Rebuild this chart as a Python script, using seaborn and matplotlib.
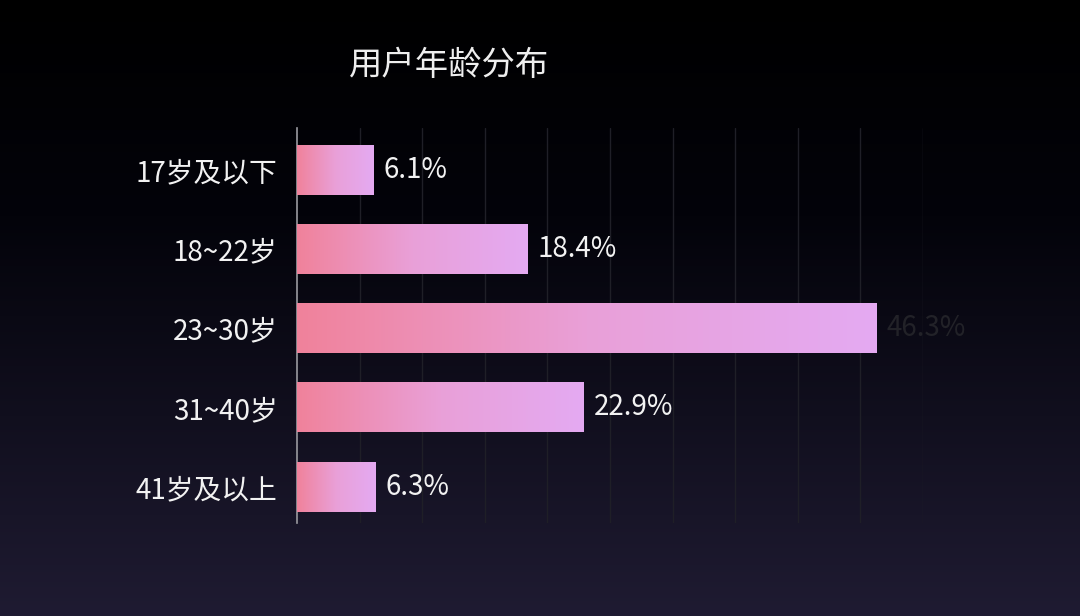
import numpy as np
import pandas as pd
import matplotlib
matplotlib.use('Agg')
import matplotlib.pyplot as plt
from matplotlib.colors import LinearSegmentedColormap
import seaborn as sns

# data
age_groups = ['17岁及以下', '18~22岁', '23~30岁', '31~40岁', '41岁及以上']
shares = [6.1, 18.4, 46.3, 22.9, 6.3]
value_labels = ['6.1%', '18.4%', '46.3%', '22.9%', '6.3%']
title = '用户年龄分布'

sns.set_style('white')
plt.rcParams['font.family'] = ['Noto Sans CJK SC', 'DejaVu Sans']

df = pd.DataFrame({'group': age_groups, 'share': shares})

fig = plt.figure(figsize=(10.8, 6.16), dpi=100)

# background: black at top fading into dark purple at the bottom
bg = fig.add_axes([0, 0, 1, 1], zorder=0)
bg_cmap = LinearSegmentedColormap.from_list('bg', [(0, '#000000'), (0.35, '#03030a'), (1, '#1f1b32')])
bg.imshow(np.linspace(0, 1, 256).reshape(-1, 1), cmap=bg_cmap, aspect='auto', extent=[0, 1, 0, 1])
bg.set_axis_off()

ax = fig.add_axes([0.275, 0.151, 0.5796, 0.641], zorder=1)
ax.patch.set_alpha(0)

sns.barplot(data=df, x='share', y='group', orient='h', width=0.633,
            color='#ec92b8', ax=ax, zorder=3)

bar_cmap = LinearSegmentedColormap.from_list('bar', ['#f0829b', '#e9a0d8', '#e4aaf2'])
grad = np.linspace(0, 1, 256).reshape(1, -1)
for p in ax.patches:
    x0, y0 = p.get_x(), p.get_y()
    w, h = p.get_width(), p.get_height()
    p.set_facecolor('none')
    p.set_edgecolor('none')
    im = ax.imshow(grad, cmap=bar_cmap, aspect='auto',
                   extent=[x0, x0 + w, y0 + h, y0], zorder=3)
    im.set_clip_path(p)

ax.set_xlim(0, 50)
ax.set_ylim(4.46, -0.53)
ax.set_xticks(np.arange(5, 51, 5))
ax.xaxis.grid(True, color='#1f1f27', linewidth=1)
ax.set_axisbelow(True)
ax.tick_params(axis='x', length=0, labelbottom=False)
ax.tick_params(axis='y', length=0, pad=14, labelsize=20, labelcolor='#f2f2f2')
ax.set_xlabel('')
ax.set_ylabel('')
for side in ['top', 'right', 'bottom']:
    ax.spines[side].set_visible(False)
ax.spines['left'].set_color('#9a9aa0')
ax.spines['left'].set_linewidth(1.2)

texts = ax.bar_label(ax.containers[0], labels=value_labels, padding=7,
                     fontsize=20, color='#f2f2f2')
# the label of the longest bar is smudged out in the reference
texts[2].set_color('#222228')

fig.text(0.416, 0.894, title, ha='center', va='center', fontsize=24, color='#eeeeee')

fig.savefig('out.png', dpi=100, facecolor='black')
